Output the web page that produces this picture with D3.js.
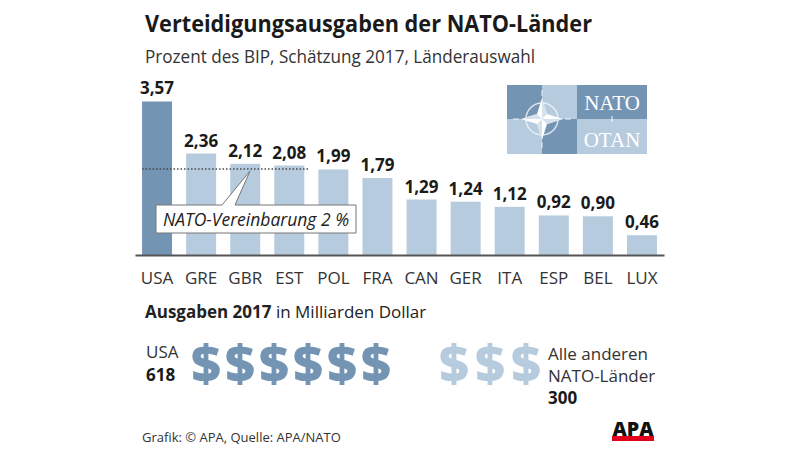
<!DOCTYPE html>
<html>
<head>
<meta charset="utf-8">
<script src="https://cdn.jsdelivr.net/npm/d3@7"></script>
<style>
  html, body { margin: 0; padding: 0; background: #fff; }
  svg { display: block; }
  text { font-family: "Open Sans", "Noto Sans", sans-serif; }
</style>
</head>
<body>
<svg id="chart" width="800" height="452"></svg>
<script>
// ---- data ----
const countries = ["USA", "GRE", "GBR", "EST", "POL", "FRA", "CAN", "GER", "ITA", "ESP", "BEL", "LUX"];
const gdpShare = [3.57, 2.36, 2.12, 2.08, 1.99, 1.79, 1.29, 1.24, 1.12, 0.92, 0.90, 0.46];
const natoTarget = 2;
const spendingGroups = ["USA", "Alle anderen NATO-Länder"];
const spendingValues = [618, 300];   // Mrd. Dollar
const dollarUnit = 100;              // one $ symbol ~ 100 Mrd.

const title = "Verteidigungsausgaben der NATO-Länder";
const subtitle = "Prozent des BIP, Schätzung 2017, Länderauswahl";
const source = "Grafik: © APA, Quelle: APA/NATO";

const fmt = v => v.toFixed(2).replace(".", ",");

const svg = d3.select("#chart");
const dark = "#7494b4";
const light = "#b7cbde";

// ---- titles ----
svg.append("text").attr("x", 145).attr("y", 32)
  .attr("font-size", 23.5).attr("font-weight", 700).attr("fill", "#1a1a1a")
  .attr("textLength", 447).attr("lengthAdjust", "spacingAndGlyphs")
  .text(title);
svg.append("text").attr("x", 145).attr("y", 63)
  .attr("font-size", 17.5).attr("fill", "#333")
  .attr("textLength", 390).attr("lengthAdjust", "spacingAndGlyphs")
  .text(subtitle);

// ---- scales ----
const x = d3.scaleBand().domain(countries).range([135, 664])
  .paddingInner(0.32).paddingOuter(0.16);
const y = d3.scaleLinear().domain([0, 4]).range([255, 83]);

const data = countries.map((c, i) => ({ c, v: gdpShare[i] }));

// ---- NATO logo ----
const logo = svg.append("g");
const lx0 = 507, lx1 = 542, lx2 = 577, lx3 = 647, ly0 = 85, ly1 = 119, ly2 = 154;
const cells = [
  [lx0, ly0, lx1, ly1, dark], [lx1, ly0, lx2, ly1, light], [lx2, ly0, lx3, ly1, dark],
  [lx0, ly1, lx1, ly2, light], [lx1, ly1, lx2, ly2, dark], [lx2, ly1, lx3, ly2, light]
];
logo.selectAll("rect").data(cells).join("rect")
  .attr("x", d => d[0]).attr("y", d => d[1])
  .attr("width", d => d[2] - d[0]).attr("height", d => d[3] - d[1])
  .attr("fill", d => d[4]);
const cx = lx1, cy = ly1;
logo.append("circle").attr("cx", cx).attr("cy", cy).attr("r", 16)
  .attr("fill", "none").attr("stroke", "#eef3f8").attr("stroke-width", 1.5).attr("opacity", 0.85);
[[0, -1], [0, 1], [-1, 0], [1, 0]].forEach(([dx, dy]) => {
  logo.append("line")
    .attr("x1", cx + dx * 23).attr("y1", cy + dy * 23)
    .attr("x2", cx + dx * 29).attr("y2", cy + dy * 29)
    .attr("stroke", "#eef3f8").attr("stroke-width", 1);
});
const arm = 21, w = 5;
const star = `M${cx},${cy - arm} L${cx + w},${cy - w} L${cx + arm},${cy} L${cx + w},${cy + w} L${cx},${cy + arm} L${cx - w},${cy + w} L${cx - arm},${cy} L${cx - w},${cy - w} Z`;
logo.append("path").attr("d", star).attr("fill", "#ffffff");
const half = `M${cx},${cy - arm} L${cx + w},${cy - w} L${cx},${cy} Z M${cx + arm},${cy} L${cx + w},${cy + w} L${cx},${cy} Z M${cx},${cy + arm} L${cx - w},${cy + w} L${cx},${cy} Z M${cx - arm},${cy} L${cx - w},${cy - w} L${cx},${cy} Z`;
logo.append("path").attr("d", half).attr("fill", "#d6e1ec");
logo.append("text").attr("x", (lx2 + lx3) / 2).attr("y", 110)
  .attr("text-anchor", "middle")
  .style("font-family", "'Liberation Serif', serif")
  .attr("font-size", 21).attr("fill", "#fff").text("NATO");
logo.append("text").attr("x", (lx2 + lx3) / 2).attr("y", 147)
  .attr("text-anchor", "middle")
  .style("font-family", "'Liberation Serif', serif")
  .attr("font-size", 21).attr("fill", "#fff").text("OTAN");
logo.append("line").attr("x1", (lx2 + lx3) / 2).attr("x2", (lx2 + lx3) / 2)
  .attr("y1", 116).attr("y2", 122).attr("stroke", "#fff").attr("stroke-width", 1);

// ---- bars ----
svg.append("g").selectAll("rect").data(data).join("rect")
  .attr("x", d => x(d.c)).attr("y", d => y(d.v))
  .attr("width", x.bandwidth()).attr("height", d => y(0) - y(d.v))
  .attr("fill", (d, i) => i === 0 ? dark : light);

svg.append("g").selectAll("text").data(data).join("text")
  .attr("x", d => x(d.c) + x.bandwidth() / 2).attr("y", d => y(d.v) - 7)
  .attr("text-anchor", "middle").attr("font-size", 17).attr("font-weight", 700)
  .attr("fill", "#1a1a1a").text(d => fmt(d.v));

// axis
const axis = svg.append("g").attr("transform", `translate(0,${y(0)})`)
  .call(d3.axisBottom(x).tickSize(0).tickSizeOuter(0).tickPadding(17));
axis.select(".domain").attr("stroke", "#555").attr("stroke-width", 2);
axis.selectAll("text").attr("font-size", 17).attr("fill", "#333")
  .style("font-family", "'Open Sans', sans-serif");

// target line
svg.append("line").attr("x1", x("USA")).attr("x2", 310)
  .attr("y1", y(natoTarget)).attr("y2", y(natoTarget))
  .attr("stroke", "#444").attr("stroke-width", 1.5).attr("stroke-dasharray", "1.5,2");

// callout
const ty = y(natoTarget) + 2;
svg.append("path")
  .attr("d", `M156,205 L222,205 L250,${ty} L235,205 L356,205 L356,233 L156,233 Z`)
  .attr("fill", "#fff").attr("stroke", "#777").attr("stroke-width", 1);
svg.append("text").attr("x", 256).attr("y", 226).attr("text-anchor", "middle")
  .attr("font-size", 17.5).attr("font-style", "italic").attr("fill", "#222")
  .text("NATO-Vereinbarung 2 %");

// ---- spending section ----
const sub = svg.append("text").attr("x", 145).attr("y", 318).attr("font-size", 17).attr("fill", "#222");
sub.append("tspan").attr("font-weight", 700).text("Ausgaben 2017");
sub.append("tspan").text(" in Milliarden Dollar");

svg.append("text").attr("x", 146).attr("y", 358).attr("font-size", 17).attr("fill", "#333").text("USA");
svg.append("text").attr("x", 146).attr("y", 381).attr("font-size", 17).attr("font-weight", 700)
  .attr("fill", "#1a1a1a").text(spendingValues[0]);

const nUsa = Math.round(spendingValues[0] / dollarUnit);
const nOther = Math.round(spendingValues[1] / dollarUnit);
const xd1 = d3.scaleLinear().domain([0, 1]).range([191, 225]);
const xd2 = d3.scaleLinear().domain([0, 1]).range([439, 475]);
svg.append("g").selectAll("text").data(d3.range(nUsa)).join("text")
  .attr("x", i => xd1(i)).attr("y", 382).attr("font-size", 52).attr("font-weight", 800)
  .attr("fill", dark).text("$");
svg.append("g").selectAll("text").data(d3.range(nOther)).join("text")
  .attr("x", i => xd2(i)).attr("y", 382).attr("font-size", 52).attr("font-weight", 800)
  .attr("fill", light).text("$");

svg.append("text").attr("x", 548).attr("y", 360).attr("font-size", 17).attr("fill", "#333").text("Alle anderen");
svg.append("text").attr("x", 548).attr("y", 382).attr("font-size", 17).attr("fill", "#333").text("NATO-Länder");
svg.append("text").attr("x", 548).attr("y", 404).attr("font-size", 17).attr("font-weight", 700)
  .attr("fill", "#1a1a1a").text(spendingValues[1]);

// footer
svg.append("text").attr("x", 142).attr("y", 442).attr("font-size", 13).attr("fill", "#333").text(source);

// APA logo
svg.append("rect").attr("x", 612).attr("y", 436).attr("width", 42).attr("height", 5).attr("fill", "#e2001a");
svg.append("text").attr("x", 633).attr("y", 436).attr("text-anchor", "middle")
  .attr("font-size", 19).attr("font-weight", 800).attr("fill", "#111")
  .attr("textLength", 41).attr("lengthAdjust", "spacingAndGlyphs")
  .style("font-family", "'Open Sans', sans-serif").text("APA");
</script>
</body>
</html>
